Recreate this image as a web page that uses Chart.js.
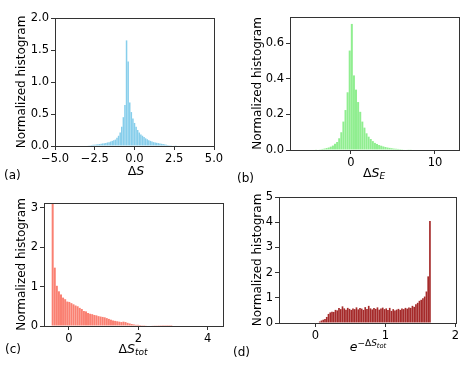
<!DOCTYPE html>
<html>
<head>
<meta charset="utf-8">
<script src="https://cdn.jsdelivr.net/npm/chart.js@4"></script>
<style>
  html, body { margin: 0; padding: 0; background: #fff; }
  #fig { position: relative; width: 472px; height: 372px; font-family: "DejaVu Sans", sans-serif; color: #000; }
  .panel { position: absolute; width: 236px; height: 186px; }
  .xl { position: absolute; font-size: 12.5px; white-space: nowrap; transform: translate(-50%, -50%); }
  .xl sub { font-size: 72%; vertical-align: -0.3em; }
  .xl sup { font-size: 72%; vertical-align: 0.55em; }
  .xl sup sub { font-size: 75%; vertical-align: -0.3em; }
  .tag { position: absolute; font-size: 12px; transform: translateY(-50%); }
</style>
</head>
<body>
<div id="fig">
  <div class="panel" style="left:0;top:0"><canvas id="ca" width="236" height="186"></canvas></div>
  <div class="panel" style="left:236px;top:0"><canvas id="cb" width="236" height="186"></canvas></div>
  <div class="panel" style="left:0;top:186px"><canvas id="cc" width="236" height="186"></canvas></div>
  <div class="panel" style="left:236px;top:186px"><canvas id="cd" width="236" height="186"></canvas></div>

  <div class="xl" style="left:136px;top:170px">&Delta;<i>S</i></div>
  <div class="xl" style="left:374px;top:173px">&Delta;<i>S</i><sub><i>E</i></sub></div>
  <div class="xl" style="left:133px;top:349px">&Delta;<i>S</i><sub><i>tot</i></sub></div>
  <div class="xl" style="left:368px;top:346px"><i>e</i><sup>&minus;&Delta;<i>S</i><sub><i>tot</i></sub></sup></div>

  <div class="tag" style="left:4px;top:175px">(a)</div>
  <div class="tag" style="left:237px;top:178px">(b)</div>
  <div class="tag" style="left:5px;top:349px">(c)</div>
  <div class="tag" style="left:233px;top:352px">(d)</div>
</div>
<script>
// (a) ΔS histogram
let binsA = [-3.0, -2.9, -2.8, -2.7, -2.6, -2.5, -2.4, -2.3, -2.2, -2.1,
  -2.0, -1.9, -1.8, -1.7, -1.6, -1.5, -1.4, -1.3, -1.2, -1.1,
  -1.0, -0.9, -0.8, -0.7, -0.6, -0.5, -0.4, -0.3, -0.2, -0.1,
  0.0, 0.1, 0.2, 0.3, 0.4, 0.5, 0.6, 0.7, 0.8, 0.9,
  1.0, 1.1, 1.2, 1.3, 1.4, 1.5, 1.6, 1.7, 1.8, 1.9,
  2.0, 2.1, 2.2, 2.3, 2.4, 2.5, 2.6];
let histA = [0.008, 0.01, 0.012, 0.015, 0.018, 0.02, 0.024, 0.027, 0.03, 0.035,
  0.04, 0.042, 0.048, 0.055, 0.06, 0.07, 0.08, 0.09, 0.1, 0.13,
  0.16, 0.21, 0.3, 0.45, 0.64, 1.65, 1.32, 0.68, 0.53, 0.43,
  0.36, 0.3, 0.25, 0.21, 0.18, 0.16, 0.14, 0.12, 0.105, 0.09,
  0.08, 0.07, 0.06, 0.055, 0.05, 0.045, 0.04, 0.035, 0.03, 0.025,
  0.02, 0.015, 0.012, 0.01, 0.008, 0.006, 0.005];
let xTicksA = [-5, -2.5, 0, 2.5, 5];
let yTicksA = [0, 0.5, 1, 1.5, 2];

// (b) ΔS_E histogram
let binsB = [-4.15, -3.9, -3.65, -3.4, -3.15, -2.9, -2.65, -2.4, -2.15, -1.9,
  -1.65, -1.4, -1.15, -0.9, -0.65, -0.4, -0.15, 0.1, 0.35, 0.6,
  0.85, 1.1, 1.35, 1.6, 1.85, 2.1, 2.35, 2.6, 2.85, 3.1,
  3.35, 3.6, 3.85, 4.1, 4.35, 4.6, 4.85, 5.1, 5.35, 5.6,
  5.85, 6.1, 6.35, 6.6, 6.85, 7.1];
let histB = [0.002, 0.003, 0.004, 0.006, 0.008, 0.011, 0.014, 0.019, 0.025, 0.035,
  0.045, 0.066, 0.1, 0.16, 0.225, 0.325, 0.56, 0.71, 0.42, 0.34,
  0.27, 0.215, 0.16, 0.126, 0.094, 0.075, 0.062, 0.05, 0.04, 0.034,
  0.028, 0.024, 0.02, 0.017, 0.014, 0.012, 0.01, 0.008, 0.007, 0.006,
  0.005, 0.004, 0.003, 0.003, 0.002, 0.002];
let xTicksB = [0, 10];
let yTicksB = [0, 0.2, 0.4, 0.6];

// (c) ΔS_tot histogram
let binsC = [-0.47, -0.41, -0.35, -0.29, -0.23, -0.17, -0.11, -0.05, 0.01, 0.07,
  0.13, 0.19, 0.25, 0.31, 0.37, 0.43, 0.49, 0.55, 0.61, 0.67,
  0.73, 0.79, 0.85, 0.91, 0.97, 1.03, 1.09, 1.15, 1.21, 1.27,
  1.33, 1.39, 1.45, 1.51, 1.57, 1.63, 1.69, 1.75, 1.81, 1.87,
  1.93, 1.99, 2.05, 2.11, 2.17, 2.23, 2.29, 2.35, 2.41, 2.47,
  2.53, 2.59, 2.65, 2.71, 2.77, 2.83, 2.89, 2.95];
let histC = [3.1, 1.48, 1.02, 0.88, 0.8, 0.72, 0.68, 0.62, 0.61, 0.58,
  0.55, 0.52, 0.5, 0.46, 0.43, 0.38, 0.37, 0.33, 0.31, 0.3,
  0.28, 0.27, 0.25, 0.24, 0.23, 0.22, 0.2, 0.18, 0.16, 0.14,
  0.13, 0.12, 0.11, 0.1, 0.11, 0.1, 0.08, 0.065, 0.05, 0.04,
  0.03, 0.03, 0.025, 0.02, 0.02, 0.015, 0.012, 0.012, 0.01, 0.008,
  0.008, 0.006, 0.005, 0.004, 0.004, 0.003, 0.003, 0.002];
let xTicksC = [0, 2, 4];
let yTicksC = [0, 1, 2, 3];

// (d) exp(-ΔS_tot) histogram
let binsD = [0.0625, 0.0875, 0.1125, 0.1375, 0.1625, 0.1875, 0.2125, 0.2375, 0.2625, 0.2875,
  0.3125, 0.3375, 0.3625, 0.3875, 0.4125, 0.4375, 0.4625, 0.4875, 0.5125, 0.5375,
  0.5625, 0.5875, 0.6125, 0.6375, 0.6625, 0.6875, 0.7125, 0.7375, 0.7625, 0.7875,
  0.8125, 0.8375, 0.8625, 0.8875, 0.9125, 0.9375, 0.9625, 0.9875, 1.0125, 1.0375,
  1.0625, 1.0875, 1.1125, 1.1375, 1.1625, 1.1875, 1.2125, 1.2375, 1.2625, 1.2875,
  1.3125, 1.3375, 1.3625, 1.3875, 1.4125, 1.4375, 1.4625, 1.4875, 1.5125, 1.5375,
  1.5625, 1.5875, 1.6125, 1.6375];
let histD = [0.06, 0.1, 0.13, 0.16, 0.24, 0.36, 0.42, 0.45, 0.44, 0.52,
  0.5, 0.6, 0.55, 0.66, 0.58, 0.53, 0.6, 0.56, 0.52, 0.58,
  0.55, 0.62, 0.54, 0.6, 0.57, 0.52, 0.63, 0.56, 0.68, 0.58,
  0.54, 0.6, 0.56, 0.62, 0.53, 0.58, 0.61, 0.55, 0.58, 0.52,
  0.6, 0.48, 0.55, 0.5, 0.53, 0.56, 0.52, 0.58, 0.55, 0.6,
  0.57, 0.62, 0.6, 0.68, 0.64, 0.74, 0.8, 0.88, 0.92, 0.98,
  1.05, 1.25, 1.85, 4.05];
let xTicksD = [0, 1, 2];
let yTicksD = [0, 1, 2, 3, 4, 5];

Chart.defaults.font.family = "'DejaVu Sans', sans-serif";
Chart.defaults.color = "#000";

// box around the plot area, like matplotlib spines
const frame = {
  id: "frame",
  afterDatasetsDraw(chart) {
    let a = chart.chartArea;
    let c = chart.ctx;
    c.save();
    c.strokeStyle = "#333";
    c.lineWidth = 1;
    c.strokeRect(Math.round(a.left) + 0.5, Math.round(a.top) + 0.5,
      Math.round(a.right - a.left), Math.round(a.bottom - a.top));
    c.restore();
  },
};

function fmt(dec) {
  return (v) => (v < 0 ? "\u2212" : "") + Math.abs(v).toFixed(dec);
}

function histChart(id, xs, ys, color, p) {
  new Chart(document.getElementById(id), {
    type: "bar",
    data: {
      datasets: [{
        data: xs.map((x, i) => ({ x: x, y: ys[i] })),
        backgroundColor: color,
        borderWidth: 0,
        barPercentage: 0.96,
        categoryPercentage: 1,
      }],
    },
    options: {
      responsive: false,
      animation: false,
      layout: { padding: { left: p.padLeft, top: p.padTop, right: p.padRight, bottom: 0 } },
      plugins: { legend: { display: false }, tooltip: { enabled: false } },
      scales: {
        x: {
          type: "linear",
          min: p.xMin,
          max: p.xMax,
          offset: false,
          border: { display: false },
          grid: { offset: false, drawOnChartArea: false, drawTicks: true, tickLength: 4, color: "#333" },
          ticks: { font: { size: 11.5 }, padding: 2, maxRotation: 0, autoSkip: false, callback: fmt(p.xDec) },
          afterBuildTicks: (s) => { s.ticks = p.xTicks.map((v) => ({ value: v })); },
          afterFit: (s) => { s.height = p.xAxisH; },
        },
        y: {
          min: 0,
          max: p.yMax,
          border: { display: false },
          grid: { drawOnChartArea: false, drawTicks: true, tickLength: 4, color: "#333" },
          ticks: { font: { size: 11.5 }, padding: 2, autoSkip: false, callback: fmt(p.yDec) },
          title: { display: true, text: "Normalized histogram", font: { size: 12 }, padding: 0 },
          afterBuildTicks: (s) => { s.ticks = p.yTicks.map((v) => ({ value: v })); },
          afterFit: (s) => { s.width = p.yAxisW; },
        },
      },
    },
    plugins: [frame],
  });
}

histChart("ca", binsA, histA, "#87CEEB", {
  xMin: -5, xMax: 5, yMax: 2, xTicks: xTicksA, yTicks: yTicksA, xDec: 1, yDec: 1,
  padLeft: 15, yAxisW: 40, padTop: 18, padRight: 22, xAxisH: 40,
});
histChart("cb", binsB, histB, "#90EE90", {
  xMin: -7.26, xMax: 12.86, yMax: 0.749, xTicks: xTicksB, yTicks: yTicksB, xDec: 0, yDec: 1,
  padLeft: 15, yAxisW: 39, padTop: 17, padRight: 13, xAxisH: 36,
});
histChart("cc", binsC, histC, "#FA8072", {
  xMin: -0.72, xMax: 4.44, yMax: 3.12, xTicks: xTicksC, yTicks: yTicksC, xDec: 0, yDec: 0,
  padLeft: 15, yAxisW: 29, padTop: 17, padRight: 13, xAxisH: 46,
});
histChart("cd", binsD, histD, "#A52A2A", {
  xMin: -0.52, xMax: 2.01, yMax: 5, xTicks: xTicksD, yTicks: yTicksD, xDec: 0, yDec: 0,
  padLeft: 15, yAxisW: 28, padTop: 11, padRight: 16, xAxisH: 49,
});
</script>
</body>
</html>
